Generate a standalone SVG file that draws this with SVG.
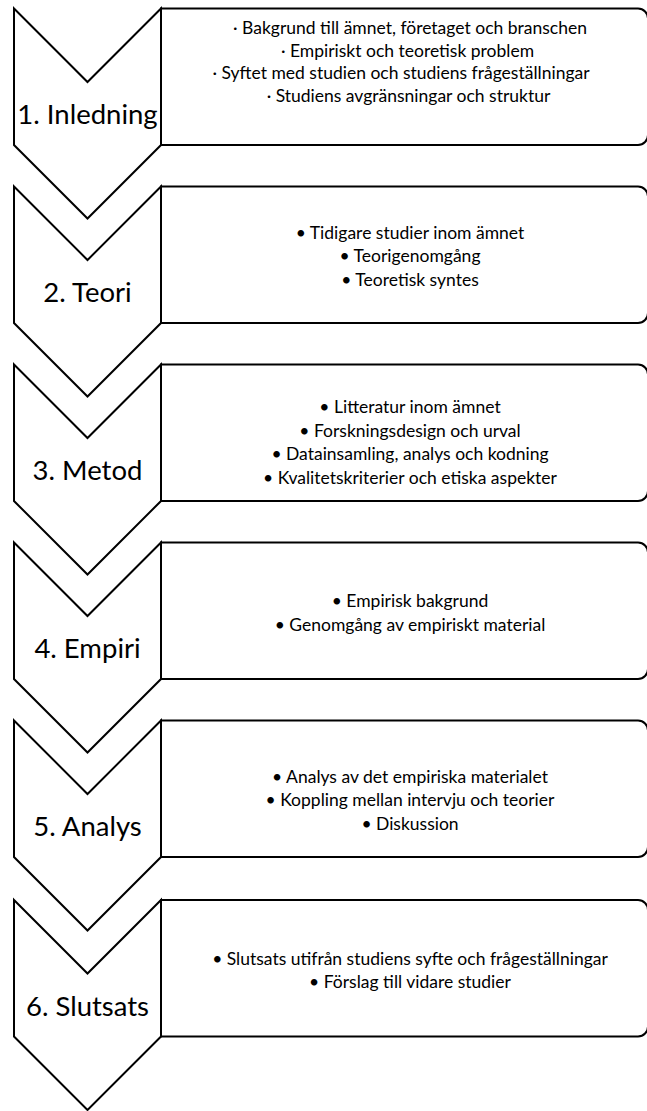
<svg xmlns="http://www.w3.org/2000/svg" width="647" height="1111" viewBox="0 0 647 1111">
<style>
.shape{fill:#fff;stroke:#000;stroke-width:2;stroke-linejoin:miter}
.lbl{font-family:Lato,"Liberation Sans",sans-serif;font-size:27.5px;fill:#000;text-anchor:middle}
.txt{font-family:Lato,"Liberation Sans",sans-serif;font-size:17.5px;fill:#000;text-anchor:middle}
</style>
<defs>
<path id="chev" d="M14,0 L87.5,73.5 L161,0 L161,136.5 L87.5,210 L14,136.5 Z"/>
<path id="box" d="M161,0 H638 A10,10 0 0 1 648,10 V126.5 A10,10 0 0 1 638,136.5 H161 Z"/>
</defs>
<g id="connectors"></g>
<g id="step1" transform="translate(0,8.5)">
<use href="#box" class="shape"/>
<use href="#chev" class="shape"/>
<text class="lbl" x="87.5" y="115.5">1. Inledning</text>
<text class="txt" x="410" y="25.5">· Bakgrund till ämnet, företaget och branschen</text>
<text class="txt" x="407.5" y="48">· Empiriskt och teoretisk problem</text>
<text class="txt" x="401" y="70.5">· Syftet med studien och studiens frågeställningar</text>
<text class="txt" x="408.5" y="93">· Studiens avgränsningar och struktur</text>
</g>
<g id="step2" transform="translate(0,186.5)">
<use href="#box" class="shape"/>
<use href="#chev" class="shape"/>
<text class="lbl" x="87.5" y="115.5">2. Teori</text>
<text class="txt" x="410" y="52">• Tidigare studier inom ämnet</text>
<text class="txt" x="410" y="75.5">• Teorigenomgång</text>
<text class="txt" x="410" y="99">• Teoretisk syntes</text>
</g>
<g id="step3" transform="translate(0,364.5)">
<use href="#box" class="shape"/>
<use href="#chev" class="shape"/>
<text class="lbl" x="87.5" y="115.5">3. Metod</text>
<text class="txt" x="410" y="48.5">• Litteratur inom ämnet</text>
<text class="txt" x="410" y="72">• Forskningsdesign och urval</text>
<text class="txt" x="410" y="95.5">• Datainsamling, analys och kodning</text>
<text class="txt" x="410" y="119">• Kvalitetskriterier och etiska aspekter</text>
</g>
<g id="step4" transform="translate(0,542.5)">
<use href="#box" class="shape"/>
<use href="#chev" class="shape"/>
<text class="lbl" x="87.5" y="115.5">4. Empiri</text>
<text class="txt" x="410" y="64.5">• Empirisk bakgrund</text>
<text class="txt" x="410" y="88">• Genomgång av empiriskt material</text>
</g>
<g id="step5" transform="translate(0,720.5)">
<use href="#box" class="shape"/>
<use href="#chev" class="shape"/>
<text class="lbl" x="87.5" y="115.5">5. Analys</text>
<text class="txt" x="410" y="62">• Analys av det empiriska materialet</text>
<text class="txt" x="410" y="85.5">• Koppling mellan intervju och teorier</text>
<text class="txt" x="410" y="109">• Diskussion</text>
</g>
<g id="step6" transform="translate(0,900)">
<use href="#box" class="shape"/>
<use href="#chev" class="shape"/>
<text class="lbl" x="87.5" y="115.5">6. Slutsats</text>
<text class="txt" x="410" y="64.5">• Slutsats utifrån studiens syfte och frågeställningar</text>
<text class="txt" x="410" y="88">• Förslag till vidare studier</text>
</g>
</svg>
